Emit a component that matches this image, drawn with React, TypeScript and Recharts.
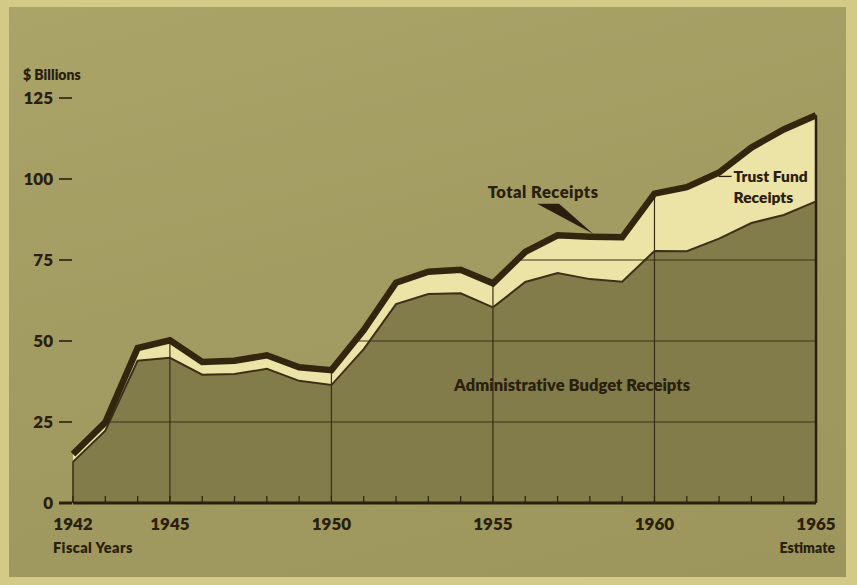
import React from 'react';
import { ComposedChart, Area, Line, XAxis, YAxis, ReferenceLine, ReferenceDot } from 'recharts';

const years = [1942, 1943, 1944, 1945, 1946, 1947, 1948, 1949, 1950, 1951, 1952, 1953, 1954, 1955, 1956, 1957, 1958, 1959, 1960, 1961, 1962, 1963, 1964, 1965];
const adminBudget = [12.7, 22.3, 43.9, 44.8, 39.6, 39.8, 41.4, 37.7, 36.4, 47.5, 61.4, 64.5, 64.7, 60.4, 68.2, 71.0, 69.1, 68.3, 77.8, 77.7, 81.6, 86.4, 88.9, 93.1];
const totalReceipts = [15.1, 24.9, 47.8, 50.2, 43.5, 43.9, 45.6, 41.9, 41.0, 53.4, 68.0, 71.4, 72.0, 67.8, 77.5, 82.6, 82.2, 82.0, 95.5, 97.5, 102.0, 109.7, 115.3, 119.7];
const yTicks = [0, 25, 50, 75, 100, 125];
const labeledYears = [1942, 1945, 1950, 1955, 1960, 1965];
const gridYears = [1945, 1950, 1955, 1960];
const gridLevels = [25, 50, 75];

const INK = '#2a200d';
const FONT = 'Lato, "DejaVu Sans", sans-serif';
const W = 800;

const data = years.map((year, i) => ({
  year,
  admin: adminBudget[i],
  trust: +(totalReceipts[i] - adminBudget[i]).toFixed(2),
  total: totalReceipts[i],
}));

const totalAt = (yr: number) => {
  for (let i = 0; i < years.length - 1; i++) {
    if (yr >= years[i] && yr <= years[i + 1]) {
      const t = (yr - years[i]) / (years[i + 1] - years[i]);
      return totalReceipts[i] + t * (totalReceipts[i + 1] - totalReceipts[i]);
    }
  }
  return totalReceipts[totalReceipts.length - 1];
};

const crossing = (level: number) => {
  let idx = -1;
  for (let i = 0; i < totalReceipts.length; i++) if (totalReceipts[i] < level) idx = i;
  if (idx < 0) return years[0];
  const t = (level - totalReceipts[idx]) / (totalReceipts[idx + 1] - totalReceipts[idx]);
  return years[idx] + t * (years[idx + 1] - years[idx]);
};

const YTick = (props: any) => {
  const { x, y, payload } = props;
  const v = payload.value;
  return (
    <g>
      {v === 125 && (
        <text x={x - 50} y={y - 18} fontSize={14} fontWeight={W} fill={INK} fontFamily={FONT}>$ Billions</text>
      )}
      <text x={x - 20} y={y + 6} textAnchor="end" fontSize={17} fontWeight={W} fill={INK} fontFamily={FONT}>{v}</text>
      <line x1={x - 14} x2={x - 1} y1={y} y2={y} stroke={INK} strokeWidth={v === 0 ? 3 : 1.6} />
    </g>
  );
};

const XTick = (props: any) => {
  const { x, y, payload } = props;
  const v = payload.value;
  return (
    <g>
      <line x1={x} x2={x} y1={y} y2={y - 7} stroke={INK} strokeWidth={1.2} />
      {labeledYears.includes(v) && (
        <text x={x} y={y + 27} textAnchor="middle" fontSize={17} fontWeight={W} fill={INK} fontFamily={FONT}>{v}</text>
      )}
      {v === years[0] && (
        <text x={x - 20} y={y + 50} textAnchor="start" fontSize={14.5} fontWeight={W} fill={INK} fontFamily={FONT} letterSpacing={0.4}>Fiscal Years</text>
      )}
      {v === years[years.length - 1] && (
        <text x={x + 19} y={y + 50} textAnchor="end" fontSize={14} fontWeight={W} fill={INK} fontFamily={FONT}>Estimate</text>
      )}
    </g>
  );
};

const TotalPointer = (props: any) => {
  const { cx, cy } = props;
  return (
    <g>
      <text x={cx - 50} y={cy - 39} textAnchor="middle" fontSize={16.5} fontWeight={W} fill={INK} fontFamily={FONT} letterSpacing={0.5}>Total Receipts</text>
      <polygon points={`${cx - 56},${cy - 33} ${cx - 34},${cy - 33} ${cx},${cy - 3}`} fill="#2a1f0e" />
    </g>
  );
};

const TrustLabel = (props: any) => {
  const { cx, cy } = props;
  return (
    <g>
      <line x1={cx - 15} x2={cx - 2} y1={cy} y2={cy} stroke={INK} strokeWidth={1.3} />
      <text x={cx} y={cy + 6} fontSize={15.5} fontWeight={W} fill={INK} fontFamily={FONT}>Trust Fund</text>
      <text x={cx} y={cy + 27} fontSize={15.5} fontWeight={W} fill={INK} fontFamily={FONT}>Receipts</text>
    </g>
  );
};

const AdminLabel = (props: any) => {
  const { cx, cy } = props;
  return (
    <text x={cx} y={cy + 5} textAnchor="middle" fontSize={16.5} fontWeight={W} fill={INK} fontFamily={FONT} letterSpacing={0.05}>Administrative Budget Receipts</text>
  );
};

export default function App() {
  return (
    <div style={{ position: 'absolute', left: 0, top: 0, width: 857, height: 585, background: '#d3ca87', overflow: 'hidden' }}>
      <div style={{ position: 'absolute', left: 9, top: 7, width: 837, height: 570, background: 'linear-gradient(165deg, #aaa469 0%, #a29c62 45%, #9c965c 100%)' }} />
      <div style={{ position: 'absolute', left: 0, top: 0 }}>
        <ComposedChart width={857} height={585} data={data} margin={{ top: 98, right: 41, bottom: 52, left: 0 }}>
          <XAxis
            dataKey="year"
            type="number"
            domain={[1942, 1965]}
            ticks={years}
            interval={0}
            tickSize={0}
            tickMargin={0}
            tickLine={false}
            height={30}
            axisLine={{ stroke: INK, strokeWidth: 3 }}
            tick={<XTick />}
          />
          <YAxis
            type="number"
            domain={[0, 125]}
            ticks={yTicks}
            interval={0}
            width={73}
            tickSize={0}
            tickMargin={0}
            tickLine={false}
            axisLine={false}
            tick={<YTick />}
          />
          <Area type="linear" dataKey="admin" stackId="r" stroke="none" fill="#827c4a" fillOpacity={1} isAnimationActive={false} />
          <Area type="linear" dataKey="trust" stackId="r" stroke="none" fill="#ece4a6" fillOpacity={1} isAnimationActive={false} />
          {gridLevels.map((lv) => (
            <ReferenceLine key={'h' + lv} segment={[{ x: crossing(lv), y: lv }, { x: years[years.length - 1], y: lv }]} stroke="#3a2e18" strokeWidth={1.2} />
          ))}
          {gridYears.map((yr) => (
            <ReferenceLine key={'v' + yr} segment={[{ x: yr, y: 0 }, { x: yr, y: totalAt(yr) }]} stroke="#3a2e18" strokeWidth={1.2} />
          ))}
          <ReferenceLine segment={[{ x: years[0], y: 0 }, { x: years[0], y: adminBudget[0] }]} stroke="#3a2e18" strokeWidth={1.5} />
          <ReferenceLine segment={[{ x: years[years.length - 1], y: 0 }, { x: years[years.length - 1], y: totalReceipts[totalReceipts.length - 1] }]} stroke="#2a1f0e" strokeWidth={2.5} />
          <Line type="linear" dataKey="admin" stroke="#3d3018" strokeWidth={2} dot={false} activeDot={false} isAnimationActive={false} />
          <Line type="linear" dataKey="total" stroke="#33260f" strokeWidth={6.5} strokeLinejoin="miter" dot={false} activeDot={false} isAnimationActive={false} />
          <ReferenceDot x={1958.1} y={totalAt(1958.1)} r={0} shape={<TotalPointer />} />
          <ReferenceDot x={1962.45} y={100.8} r={0} shape={<TrustLabel />} />
          <ReferenceDot x={1957.45} y={36} r={0} shape={<AdminLabel />} />
        </ComposedChart>
      </div>
    </div>
  );
}
